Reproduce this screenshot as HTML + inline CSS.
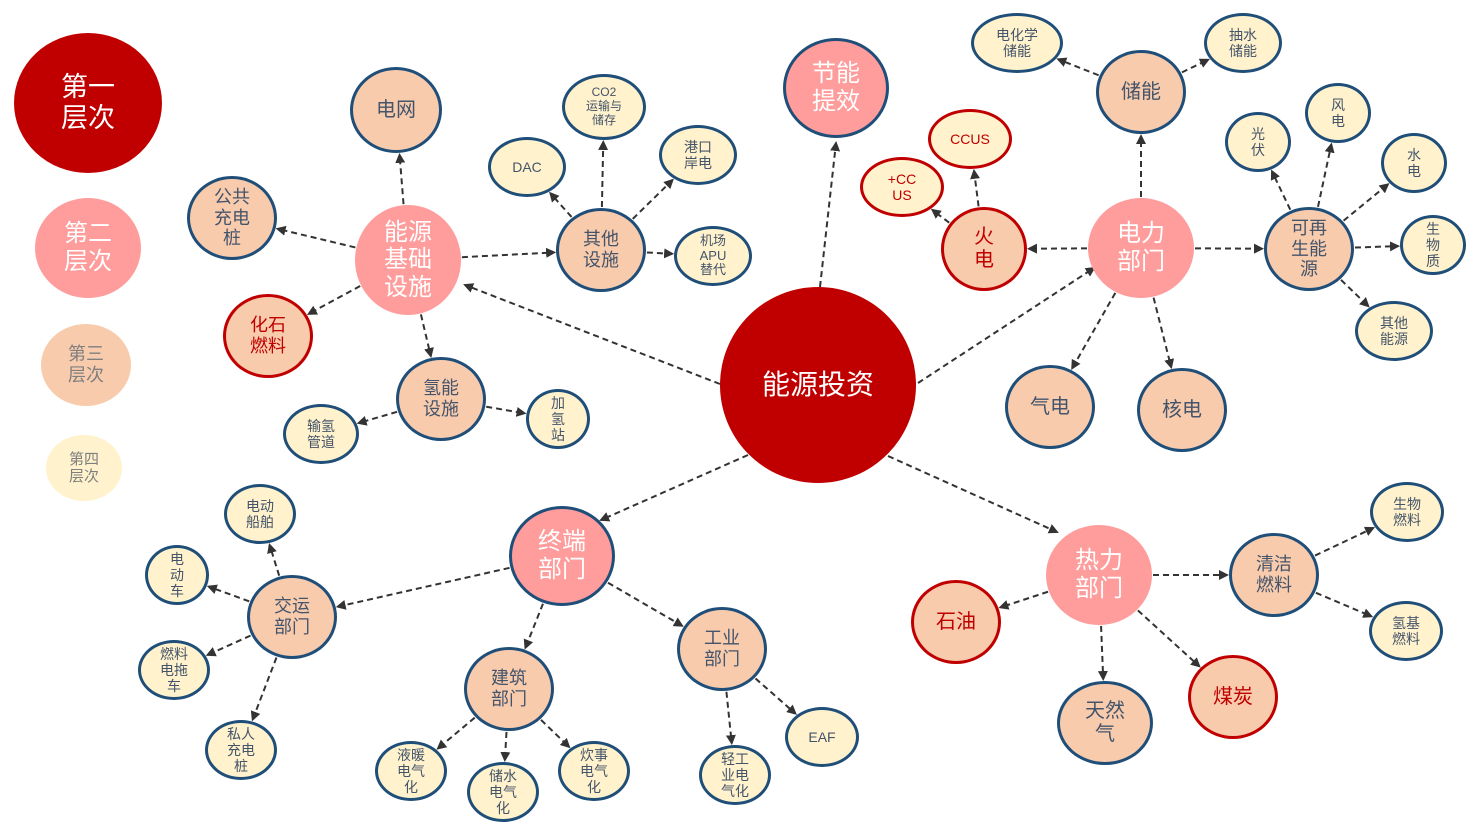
<!DOCTYPE html>
<html><head><meta charset="utf-8"><style>
body{margin:0;width:1477px;height:828px;background:#fff;position:relative;overflow:hidden;font-family:"Liberation Sans","Noto Sans CJK SC",sans-serif}
.n{position:absolute;box-sizing:border-box;border-radius:50%;display:flex;align-items:center;justify-content:center;text-align:center;line-height:1.15;z-index:2}
.l1{background:#c00000;color:#fff}
.l2{background:#ff9c9c;color:#fff}
.bb{border:3px solid #1f4e79}
.l3{background:#f8cbad;color:#44546a;border:3px solid #1f4e79}
.l4{background:#fff2cc;color:#44546a;border:3px solid #1f4e79}
.r{border:3px solid #c00000;color:#c00000}
svg{position:absolute;left:0;top:0;z-index:1}
</style></head><body>
<svg id="s" width="1477" height="828"><defs><marker id="a" markerWidth="10" markerHeight="10" refX="8" refY="5" orient="auto" markerUnits="userSpaceOnUse"><path d="M0,0 L10,5 L0,10 z" fill="#333"/></marker></defs></svg>

<div class="n l1" style="left:14px;top:33px;width:148px;height:140px;font-size:27px">第一<br>层次</div>
<div class="n l2" style="left:35px;top:198px;width:106px;height:100px;font-size:24px">第二<br>层次</div>
<div class="n l3" style="left:41px;top:324px;width:90px;height:82px;font-size:18px;border:none;color:#7f7f7f">第三<br>层次</div>
<div class="n l4" style="left:46px;top:435px;width:76px;height:66px;font-size:15px;border:none;color:#7f7f7f">第四<br>层次</div>

<div id="c" class="n l1" style="left:720px;top:287px;width:196px;height:196px;font-size:28px">能源投资</div>
<div id="jn" class="n l2 bb" style="left:783px;top:38px;width:106px;height:100px;font-size:24px">节能<br>提效</div>
<div id="jc" class="n l2" style="left:355px;top:205px;width:106px;height:110px;font-size:24px">能源<br>基础<br>设施</div>
<div id="dw" class="n l3" style="left:350px;top:67px;width:92px;height:86px;font-size:20px">电网</div>
<div id="gg" class="n l3" style="left:187px;top:176px;width:90px;height:84px;font-size:18px">公共<br>充电<br>桩</div>
<div id="hs" class="n l3 r" style="left:223px;top:294px;width:90px;height:84px;font-size:18px">化石<br>燃料</div>
<div id="qn" class="n l3" style="left:396px;top:357px;width:90px;height:84px;font-size:18px">氢能<br>设施</div>
<div id="sq" class="n l4" style="left:283px;top:404px;width:76px;height:60px;font-size:14px">输氢<br>管道</div>
<div id="jq" class="n l4" style="left:526px;top:389px;width:64px;height:60px;font-size:14px">加<br>氢<br>站</div>
<div id="qt" class="n l3" style="left:556px;top:208px;width:90px;height:84px;font-size:18px">其他<br>设施</div>
<div id="dac" class="n l4" style="left:488px;top:137px;width:78px;height:60px;font-size:14px">DAC</div>
<div id="co2" class="n l4" style="left:562px;top:74px;width:84px;height:66px;font-size:12px">CO2<br>运输与<br>储存</div>
<div id="gk" class="n l4" style="left:659px;top:125px;width:78px;height:60px;font-size:14px">港口<br>岸电</div>
<div id="apu" class="n l4" style="left:674px;top:226px;width:78px;height:60px;font-size:13px">机场<br>APU<br>替代</div>

<div id="dl" class="n l2" style="left:1088px;top:198px;width:106px;height:100px;font-size:24px">电力<br>部门</div>
<div id="cn" class="n l3" style="left:1096px;top:50px;width:90px;height:84px;font-size:20px">储能</div>
<div id="dhx" class="n l4" style="left:971px;top:13px;width:92px;height:60px;font-size:14px">电化学<br>储能</div>
<div id="cs" class="n l4" style="left:1204px;top:13px;width:78px;height:60px;font-size:14px">抽水<br>储能</div>
<div id="hd" class="n l3 r" style="left:941px;top:207px;width:86px;height:84px;font-size:20px">火<br>电</div>
<div id="ccus" class="n l4 r" style="left:928px;top:109px;width:84px;height:60px;font-size:14px">CCUS</div>
<div id="pc" class="n l4 r" style="left:860px;top:157px;width:84px;height:60px;font-size:14px">+CC<br>US</div>
<div id="kz" class="n l3" style="left:1264px;top:207px;width:90px;height:84px;font-size:18px">可再<br>生能<br>源</div>
<div id="gf" class="n l4" style="left:1225px;top:112px;width:66px;height:60px;font-size:14px">光<br>伏</div>
<div id="fd" class="n l4" style="left:1305px;top:83px;width:66px;height:60px;font-size:14px">风<br>电</div>
<div id="sd" class="n l4" style="left:1381px;top:133px;width:66px;height:60px;font-size:14px">水<br>电</div>
<div id="sw" class="n l4" style="left:1400px;top:215px;width:66px;height:60px;font-size:14px">生<br>物<br>质</div>
<div id="qy" class="n l4" style="left:1355px;top:301px;width:78px;height:60px;font-size:14px">其他<br>能源</div>
<div id="qd" class="n l3" style="left:1005px;top:365px;width:90px;height:84px;font-size:20px">气电</div>
<div id="hed" class="n l3" style="left:1137px;top:368px;width:90px;height:84px;font-size:20px">核电</div>

<div id="rl" class="n l2" style="left:1046px;top:525px;width:106px;height:100px;font-size:24px">热力<br>部门</div>
<div id="sy" class="n l3 r" style="left:911px;top:580px;width:90px;height:84px;font-size:20px">石油</div>
<div id="trq" class="n l3" style="left:1057px;top:681px;width:96px;height:84px;font-size:20px">天然<br>气</div>
<div id="mt" class="n l3 r" style="left:1188px;top:655px;width:90px;height:84px;font-size:20px">煤炭</div>
<div id="qj" class="n l3" style="left:1229px;top:533px;width:90px;height:84px;font-size:18px">清洁<br>燃料</div>
<div id="swr" class="n l4" style="left:1370px;top:482px;width:74px;height:60px;font-size:14px">生物<br>燃料</div>
<div id="qjr" class="n l4" style="left:1369px;top:601px;width:74px;height:60px;font-size:14px">氢基<br>燃料</div>

<div id="zd" class="n l2 bb" style="left:509px;top:506px;width:106px;height:100px;font-size:24px">终端<br>部门</div>
<div id="jy" class="n l3" style="left:247px;top:575px;width:90px;height:84px;font-size:18px">交运<br>部门</div>
<div id="ddc" class="n l4" style="left:224px;top:484px;width:72px;height:60px;font-size:14px">电动<br>船舶</div>
<div id="ddche" class="n l4" style="left:145px;top:545px;width:64px;height:60px;font-size:14px">电<br>动<br>车</div>
<div id="rl2" class="n l4" style="left:138px;top:640px;width:72px;height:60px;font-size:14px">燃料<br>电拖<br>车</div>
<div id="sr" class="n l4" style="left:205px;top:720px;width:72px;height:60px;font-size:14px">私人<br>充电<br>桩</div>
<div id="jz" class="n l3" style="left:464px;top:647px;width:90px;height:84px;font-size:18px">建筑<br>部门</div>
<div id="yn" class="n l4" style="left:375px;top:741px;width:72px;height:60px;font-size:14px">液暖<br>电气<br>化</div>
<div id="cs2" class="n l4" style="left:467px;top:762px;width:72px;height:60px;font-size:14px">储水<br>电气<br>化</div>
<div id="cz" class="n l4" style="left:558px;top:741px;width:72px;height:60px;font-size:14px">炊事<br>电气<br>化</div>
<div id="gy" class="n l3" style="left:677px;top:607px;width:90px;height:84px;font-size:18px">工业<br>部门</div>
<div id="qgy" class="n l4" style="left:699px;top:745px;width:72px;height:60px;font-size:14px">轻工<br>业电<br>气化</div>
<div id="eaf" class="n l4" style="left:785px;top:707px;width:74px;height:60px;font-size:14px">EAF</div>

<script>
var E=[["c","jc",[720,384],[465,285]],["c","jn",[820,287],[836,143]],["c","dl",[918,383],[1094,268]],["c","zd",[748,455],[601,520]],["c","rl",[888,456],[1057,532]],
["jc","dw"],["jc","gg"],["jc","hs"],["jc","qn"],["jc","qt"],["qn","sq"],["qn","jq"],
["qt","dac"],["qt","co2"],["qt","gk"],["qt","apu"],
["dl","cn"],["dl","hd"],["dl","kz"],["dl","qd"],["dl","hed"],["cn","dhx"],["cn","cs"],["hd","ccus"],["hd","pc"],
["kz","gf"],["kz","fd"],["kz","sd"],["kz","sw"],["kz","qy"],
["rl","sy"],["rl","trq"],["rl","mt"],["rl","qj"],["qj","swr"],["qj","qjr"],
["zd","jy"],["zd","jz"],["zd","gy"],["jy","ddc"],["jy","ddche"],["jy","rl2"],["jy","sr"],
["jz","yn"],["jz","cs2"],["jz","cz"],["gy","qgy"],["gy","eaf"]];
function g(id){var e=document.getElementById(id);return{x:e.offsetLeft+e.offsetWidth/2,y:e.offsetTop+e.offsetHeight/2,rx:e.offsetWidth/2,ry:e.offsetHeight/2};}
function pt(n,dx,dy,off){var t=1/Math.sqrt(Math.pow(dx/n.rx,2)+Math.pow(dy/n.ry,2));var L=Math.sqrt(dx*dx+dy*dy);return{x:n.x+dx*t+dx/L*off,y:n.y+dy*t+dy/L*off};}
var s=document.getElementById("s"),h="";
E.forEach(function(p){var p1,p2;
if(p[2]){p1={x:p[2][0],y:p[2][1]};p2={x:p[3][0],y:p[3][1]};}
else{var a=g(p[0]),b=g(p[1]);var dx=b.x-a.x,dy=b.y-a.y;p1=pt(a,dx,dy,1);p2=pt(b,-dx,-dy,2);}
h+='<line x1="'+p1.x+'" y1="'+p1.y+'" x2="'+p2.x+'" y2="'+p2.y+'" stroke="#333" stroke-width="2" stroke-dasharray="6 4" marker-end="url(#a)"/>';});
s.insertAdjacentHTML("beforeend",h);
</script>
</body></html>
